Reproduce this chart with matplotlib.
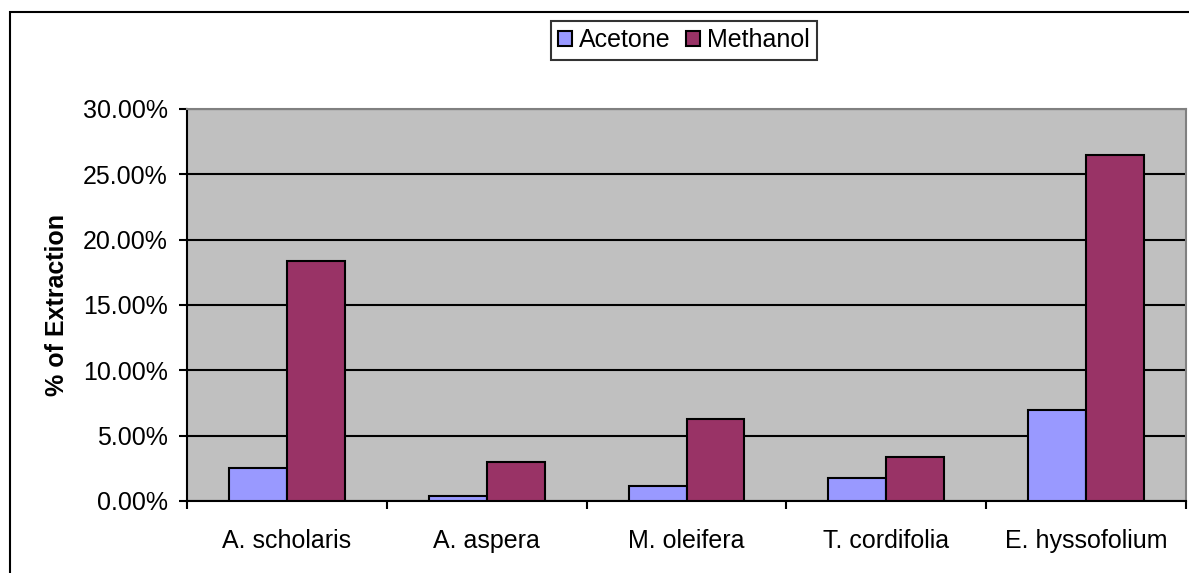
import numpy as np
import matplotlib.pyplot as plt
from matplotlib.patches import Rectangle
from matplotlib.ticker import FuncFormatter

plants = ["A. scholaris", "A. aspera", "M. oleifera", "T. cordifolia", "E. hyssofolium"]
acetone = [2.5, 0.4, 1.15, 1.75, 7.0]
methanol = [18.4, 2.95, 6.25, 3.4, 26.45]
y_ticks = [0, 5, 10, 15, 20, 25, 30]

plt.rcParams['font.family'] = ['Liberation Sans', 'DejaVu Sans']

fig = plt.figure(figsize=(11.89, 5.73), dpi=100)
ax = fig.add_axes([187 / 1189, 1 - 501 / 573, 999 / 1189, 392 / 573])

x = np.arange(len(plants))
w = 0.29
ax.bar(x - w / 2, acetone, w, color="#9999FF", edgecolor="black", linewidth=1.5,
       label="Acetone", zorder=3)
ax.bar(x + w / 2, methanol, w, color="#993366", edgecolor="black", linewidth=1.5,
       label="Methanol", zorder=3)

ax.set_facecolor("#C0C0C0")
ax.set_xlim(-0.5, len(plants) - 0.5)
ax.set_ylim(0, 30)
ax.set_yticks(y_ticks)
ax.yaxis.set_major_formatter(FuncFormatter(lambda v, p: f"{v:.2f}%"))
ax.grid(axis="y", color="black", linewidth=1.5, zorder=1)
ax.set_axisbelow(True)

ax.set_xticks(np.arange(len(plants) + 1) - 0.5, minor=False)
ax.set_xticklabels([])
ax.set_xticks(x, minor=True)
ax.set_xticklabels(plants, minor=True, fontsize=18)
ax.tick_params(axis="x", which="minor", length=0, pad=20)
ax.tick_params(axis="x", which="major", length=6, width=1.5, direction="out")
ax.tick_params(axis="y", length=6, width=1.5, direction="out", labelsize=18, pad=8)

for s in ["left", "bottom"]:
    ax.spines[s].set_color("black")
    ax.spines[s].set_linewidth(1.5)
for s in ["top", "right"]:
    ax.spines[s].set_color("#808080")
    ax.spines[s].set_linewidth(1.5)

ax.set_ylabel("% of Extraction", fontsize=18, fontweight="bold", labelpad=10)

leg = fig.legend(loc="center", bbox_to_anchor=(684 / 1189, 1 - 40 / 573), ncol=2,
                 fontsize=18, frameon=True, fancybox=False, handlelength=0.55,
                 handleheight=0.55, handletextpad=0.3, columnspacing=0.6,
                 borderpad=0.3)
leg.get_frame().set_edgecolor("black")
leg.get_frame().set_linewidth(1.5)

fig.patches.append(Rectangle((10 / 1189, -0.1), 1.2, 1 - 12 / 573 + 0.1,
                             transform=fig.transFigure, fill=False,
                             edgecolor="black", linewidth=1.5, clip_on=False))

fig.savefig("out.png", dpi=100)
